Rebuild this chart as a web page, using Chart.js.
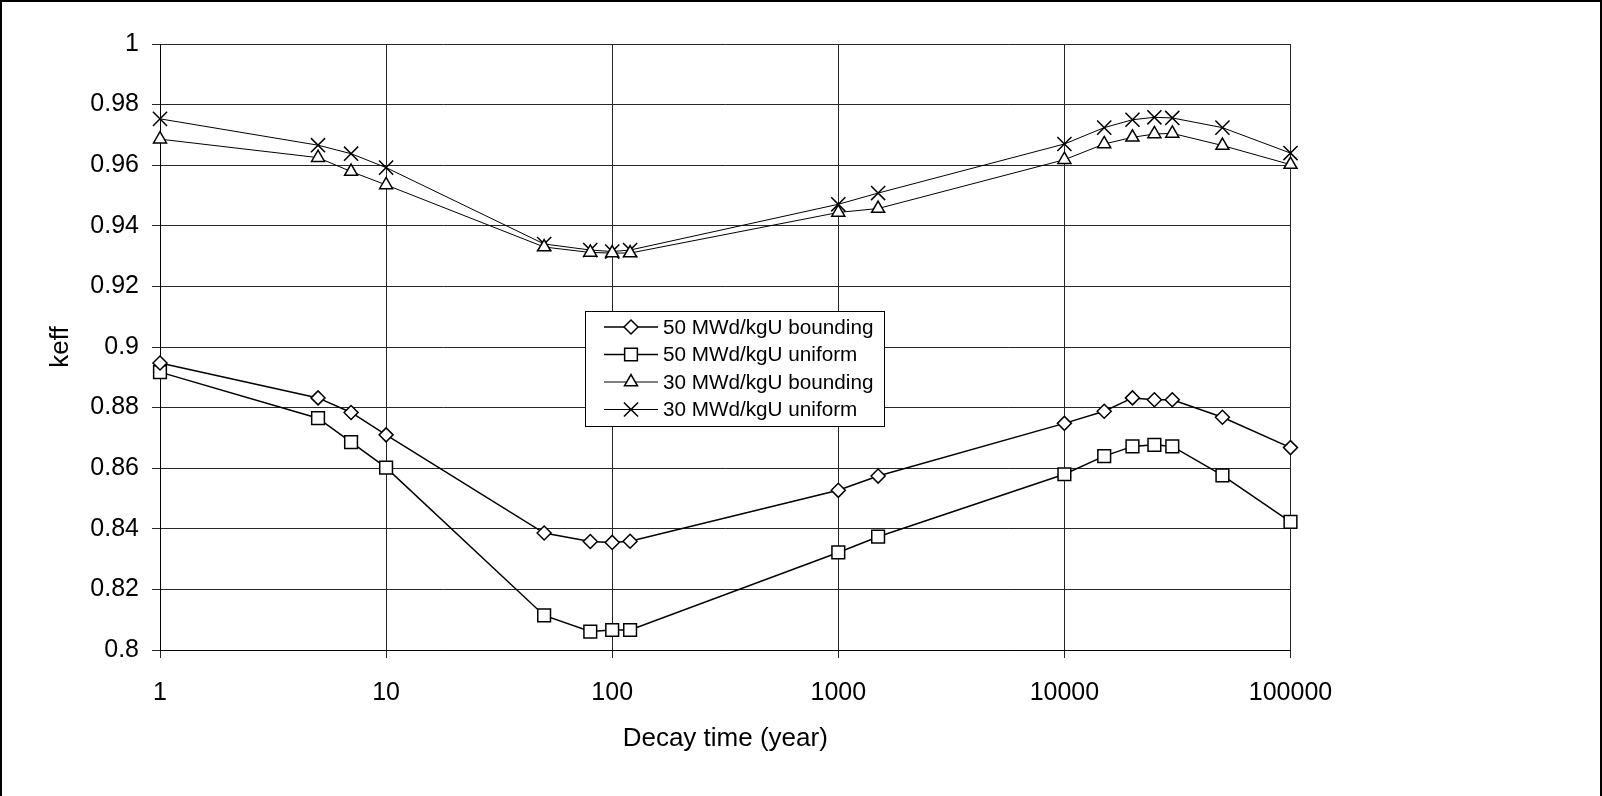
<!DOCTYPE html>
<html>
<head>
<meta charset="utf-8">
<script src="https://cdn.jsdelivr.net/npm/chart.js@4.4.1/dist/chart.umd.min.js"></script>
<style>
  html, body { margin: 0; padding: 0; background: #fff; }
  #wrap { width: 1602px; height: 796px; }
</style>
</head>
<body>
<div id="wrap"><canvas id="keffChart" width="1602" height="796"></canvas></div>
<script>
// decay time (year), x axis, log scale
const decayYears = [1, 5, 7, 10, 50, 80, 100, 120, 1000, 1500, 10000, 15000, 20000, 25000, 30000, 50000, 100000];

// keff values
const bounding50 = [0.8947, 0.8832, 0.8784, 0.8710, 0.8386, 0.8358, 0.8355, 0.8359, 0.8527, 0.8574, 0.8748, 0.8788, 0.8832, 0.8826, 0.8826, 0.8768, 0.8668];
const uniform50  = [0.8917, 0.8765, 0.8686, 0.8602, 0.8114, 0.8061, 0.8066, 0.8066, 0.8322, 0.8374, 0.8580, 0.8640, 0.8672, 0.8677, 0.8672, 0.8576, 0.8423];
const bounding30 = [0.9686, 0.9625, 0.9579, 0.9535, 0.9330, 0.9312, 0.9310, 0.9310, 0.9444, 0.9457, 0.9618, 0.9670, 0.9692, 0.9703, 0.9705, 0.9665, 0.9602];
const uniform30  = [0.9753, 0.9666, 0.9638, 0.9592, 0.9340, 0.9320, 0.9315, 0.9320, 0.9471, 0.9508, 0.9670, 0.9724, 0.9750, 0.9758, 0.9756, 0.9724, 0.9640];

const seriesLabels = ['50 MWd/kgU bounding', '50 MWd/kgU uniform', '30 MWd/kgU bounding', '30 MWd/kgU uniform'];
const xTickValues = [1, 10, 100, 1000, 10000, 100000];
const yMin = 0.8, yMax = 1, yStep = 0.02;

const FONT = "'Liberation Sans', Arial, sans-serif";

function toPoints(values) {
    return decayYears.map((x, i) => ({ x: x, y: values[i] }));
}

function makeSet(label, values, style, radius, lineWidth) {
    return {
        label: label,
        data: toPoints(values),
        borderColor: '#000',
        borderWidth: lineWidth,
        backgroundColor: '#fff',
        pointStyle: style,
        pointRadius: radius,
        pointHoverRadius: radius,
        pointBackgroundColor: '#fff',
        pointBorderColor: '#000',
        pointBorderWidth: 1.5,
        tension: 0,
        clip: false
    };
}

// white page with the thin frame round it
const framePlugin = {
    id: 'frame',
    beforeDraw(chart) {
        const ctx = chart.ctx;
        ctx.save();
        ctx.fillStyle = '#fff';
        ctx.fillRect(0, 0, chart.width, chart.height);
        ctx.strokeStyle = '#000';
        ctx.lineWidth = 2;
        ctx.strokeRect(1, 1, chart.width - 2, chart.height + 10);
        ctx.restore();
    }
};

// boxed legend in the middle of the plot, line + marker per entry
const boxLegend = {
    id: 'boxLegend',
    afterDraw(chart) {
        const ctx = chart.ctx;
        const box = { x: 585.5, y: 311.5, w: 299, h: 115 };
        ctx.save();
        ctx.fillStyle = '#fff';
        ctx.fillRect(box.x, box.y, box.w, box.h);
        ctx.strokeStyle = '#000';
        ctx.lineWidth = 1;
        ctx.strokeRect(box.x, box.y, box.w, box.h);

        chart.data.datasets.forEach((ds, i) => {
            const cy = 327 + i * 27.5;
            ctx.strokeStyle = '#000';
            ctx.lineWidth = ds.borderWidth;
            ctx.beginPath();
            ctx.moveTo(604, cy);
            ctx.lineTo(658, cy);
            ctx.stroke();
            ctx.fillStyle = '#fff';
            ctx.strokeStyle = '#000';
            ctx.lineWidth = 1.5;
            Chart.helpers.drawPoint(ctx, {
                pointStyle: ds.pointStyle,
                radius: ds.pointRadius,
                borderWidth: 1.5
            }, 631, cy);
            ctx.fillStyle = '#000';
            ctx.font = '20.7px ' + FONT;
            ctx.textBaseline = 'middle';
            ctx.textAlign = 'left';
            ctx.fillText(ds.label, 663, cy + 1);
        });
        ctx.restore();
    }
};

const gridColor = '#262626';

new Chart(document.getElementById('keffChart').getContext('2d'), {
    type: 'line',
    data: {
        datasets: [
            makeSet(seriesLabels[0], bounding50, 'rectRot', 7, 1.5),
            makeSet(seriesLabels[1], uniform50, 'rect', 9, 1.5),
            makeSet(seriesLabels[2], bounding30, 'triangle', 7.5, 1),
            makeSet(seriesLabels[3], uniform30, 'crossRot', 10, 1)
        ]
    },
    options: {
        responsive: false,
        animation: false,
        events: [],
        layout: { padding: { top: 44, right: 311.5, bottom: 0, left: 0 } },
        plugins: {
            legend: { display: false },
            tooltip: { enabled: false }
        },
        scales: {
            x: {
                type: 'logarithmic',
                min: 1,
                max: 100000,
                afterBuildTicks: scale => {
                    scale.ticks = xTickValues.map(v => ({ value: v }));
                },
                afterFit: scale => { scale.height = 146; },
                ticks: {
                    autoSkip: false,
                    maxRotation: 0,
                    padding: 20,
                    color: '#000',
                    font: { family: FONT, size: 25 },
                    callback: v => String(v)
                },
                grid: { color: gridColor, lineWidth: 1, tickLength: 8 },
                border: { color: '#000', width: 1 },
                title: {
                    display: true,
                    text: 'Decay time (year)',
                    color: '#000',
                    font: { family: FONT, size: 26 },
                    padding: { top: 0, bottom: 42 }
                }
            },
            y: {
                type: 'linear',
                min: yMin,
                max: yMax,
                afterFit: scale => { scale.width = 160; },
                ticks: {
                    stepSize: yStep,
                    padding: 13,
                    color: '#000',
                    font: { family: FONT, size: 25 },
                    callback: v => String(+v.toFixed(2))
                },
                grid: { color: gridColor, lineWidth: 1, tickLength: 8 },
                border: { color: '#000', width: 1 },
                title: {
                    display: true,
                    text: 'keff',
                    color: '#000',
                    font: { family: FONT, size: 26 },
                    padding: { top: 45, bottom: 0 }
                }
            }
        }
    },
    plugins: [framePlugin, boxLegend]
});
</script>
</body>
</html>
